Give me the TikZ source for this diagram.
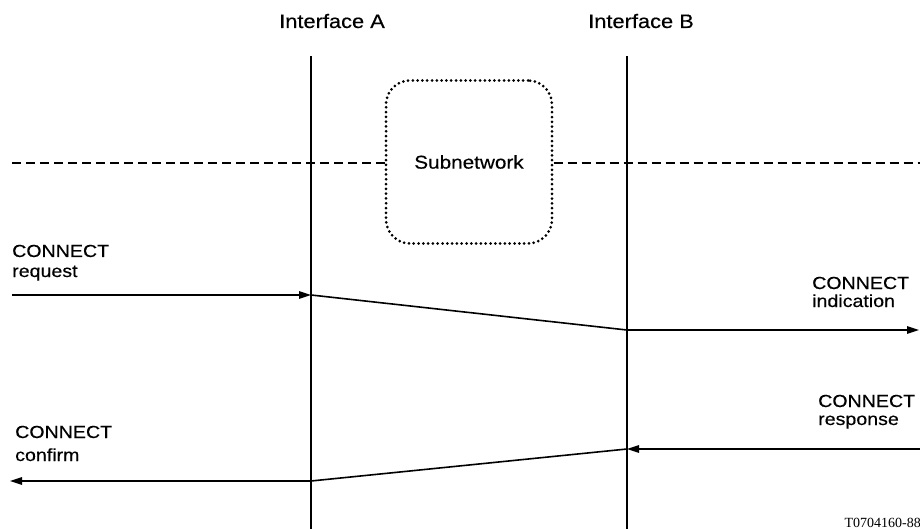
\documentclass[tikz,border=0pt]{standalone}
\usepackage{fontspec}
\setmainfont{Liberation Sans}[FakeStretch=1.12,FakeBold=0.35]
\newfontfamily\codefont{Liberation Serif}
\usetikzlibrary{arrows.meta}
\tikzset{
  lbl/.style={inner sep=0pt, anchor=base west, font=\fontsize{17.5}{20}\selectfont},
  ifl/.style={inner sep=0pt, anchor=base west, font=\fontsize{19.5}{22}\selectfont},
  lifeline/.style={line width=1.4pt},
  msg/.style={line width=1.6pt},
  arr/.style={msg, -{Triangle[length=12pt,width=7.5pt]}},
  dsh/.style={line width=1.5pt, dash pattern=on 9pt off 5pt},
  subbox/.style={draw, line width=3pt, line cap=round, dash pattern=on 0pt off 4.8pt,
    rounded corners=24pt, minimum width=166pt, minimum height=163pt, inner sep=0pt,
    font=\fontsize{18.5}{21}\selectfont}
}
\begin{document}
\begin{tikzpicture}[x=1pt,y=-1pt]
\useasboundingbox (0,0) rectangle (920,529);
% interface labels
\node[ifl] (ifA) at (279,28) {Interface A};
\node[ifl] (ifB) at (588,28) {Interface B};
% lifelines
\coordinate (Atop) at (311,56);
\coordinate (Abot) at (311,529);
\coordinate (Btop) at (627,56);
\coordinate (Bbot) at (627,529);
\draw[lifeline] (Atop) -- (Abot);
\draw[lifeline] (Btop) -- (Bbot);
% subnetwork
\node[subbox] (sub) at (469,162) {Subnetwork};
\coordinate (dL) at (12,163);
\coordinate (dR) at (920,163);
\draw[dsh] (dL) -- (sub.west |- dL);
\draw[dsh] (sub.east |- dR) -- (dR);
% request / indication
\coordinate (reqS) at (12,295);
\coordinate (reqA) at (311,295);
\coordinate (indB) at (627,330);
\coordinate (indE) at (919,330);
\draw[arr] (reqS) -- (reqA);
\draw[msg] (reqA) -- (indB);
\draw[arr] (indB) -- (indE);
% response / confirm
\coordinate (resS) at (920,449);
\coordinate (resB) at (627,449);
\coordinate (conA) at (311,481);
\coordinate (conE) at (10,481);
\draw[arr] (resS) -- (resB);
\draw[msg] (resB) -- (conA);
\draw[arr] (conA) -- (conE);
% labels
\node[lbl] (rq1) at (12,257) {CONNECT};
\node[lbl] (rq2) at (12,277) {request};
\node[lbl] (in1) at (812,289) {CONNECT};
\node[lbl] (in2) at (812,307) {indication};
\node[lbl] (rs1) at (818,407) {CONNECT};
\node[lbl] (rs2) at (818,425) {response};
\node[lbl] (cf1) at (15,438) {CONNECT};
\node[lbl] (cf2) at (15,461) {confirm};
\node[inner sep=0pt, anchor=base east, font=\codefont\fontsize{14}{16}\selectfont] (code) at (921,527) {T0704160-88};
\end{tikzpicture}
\end{document}
